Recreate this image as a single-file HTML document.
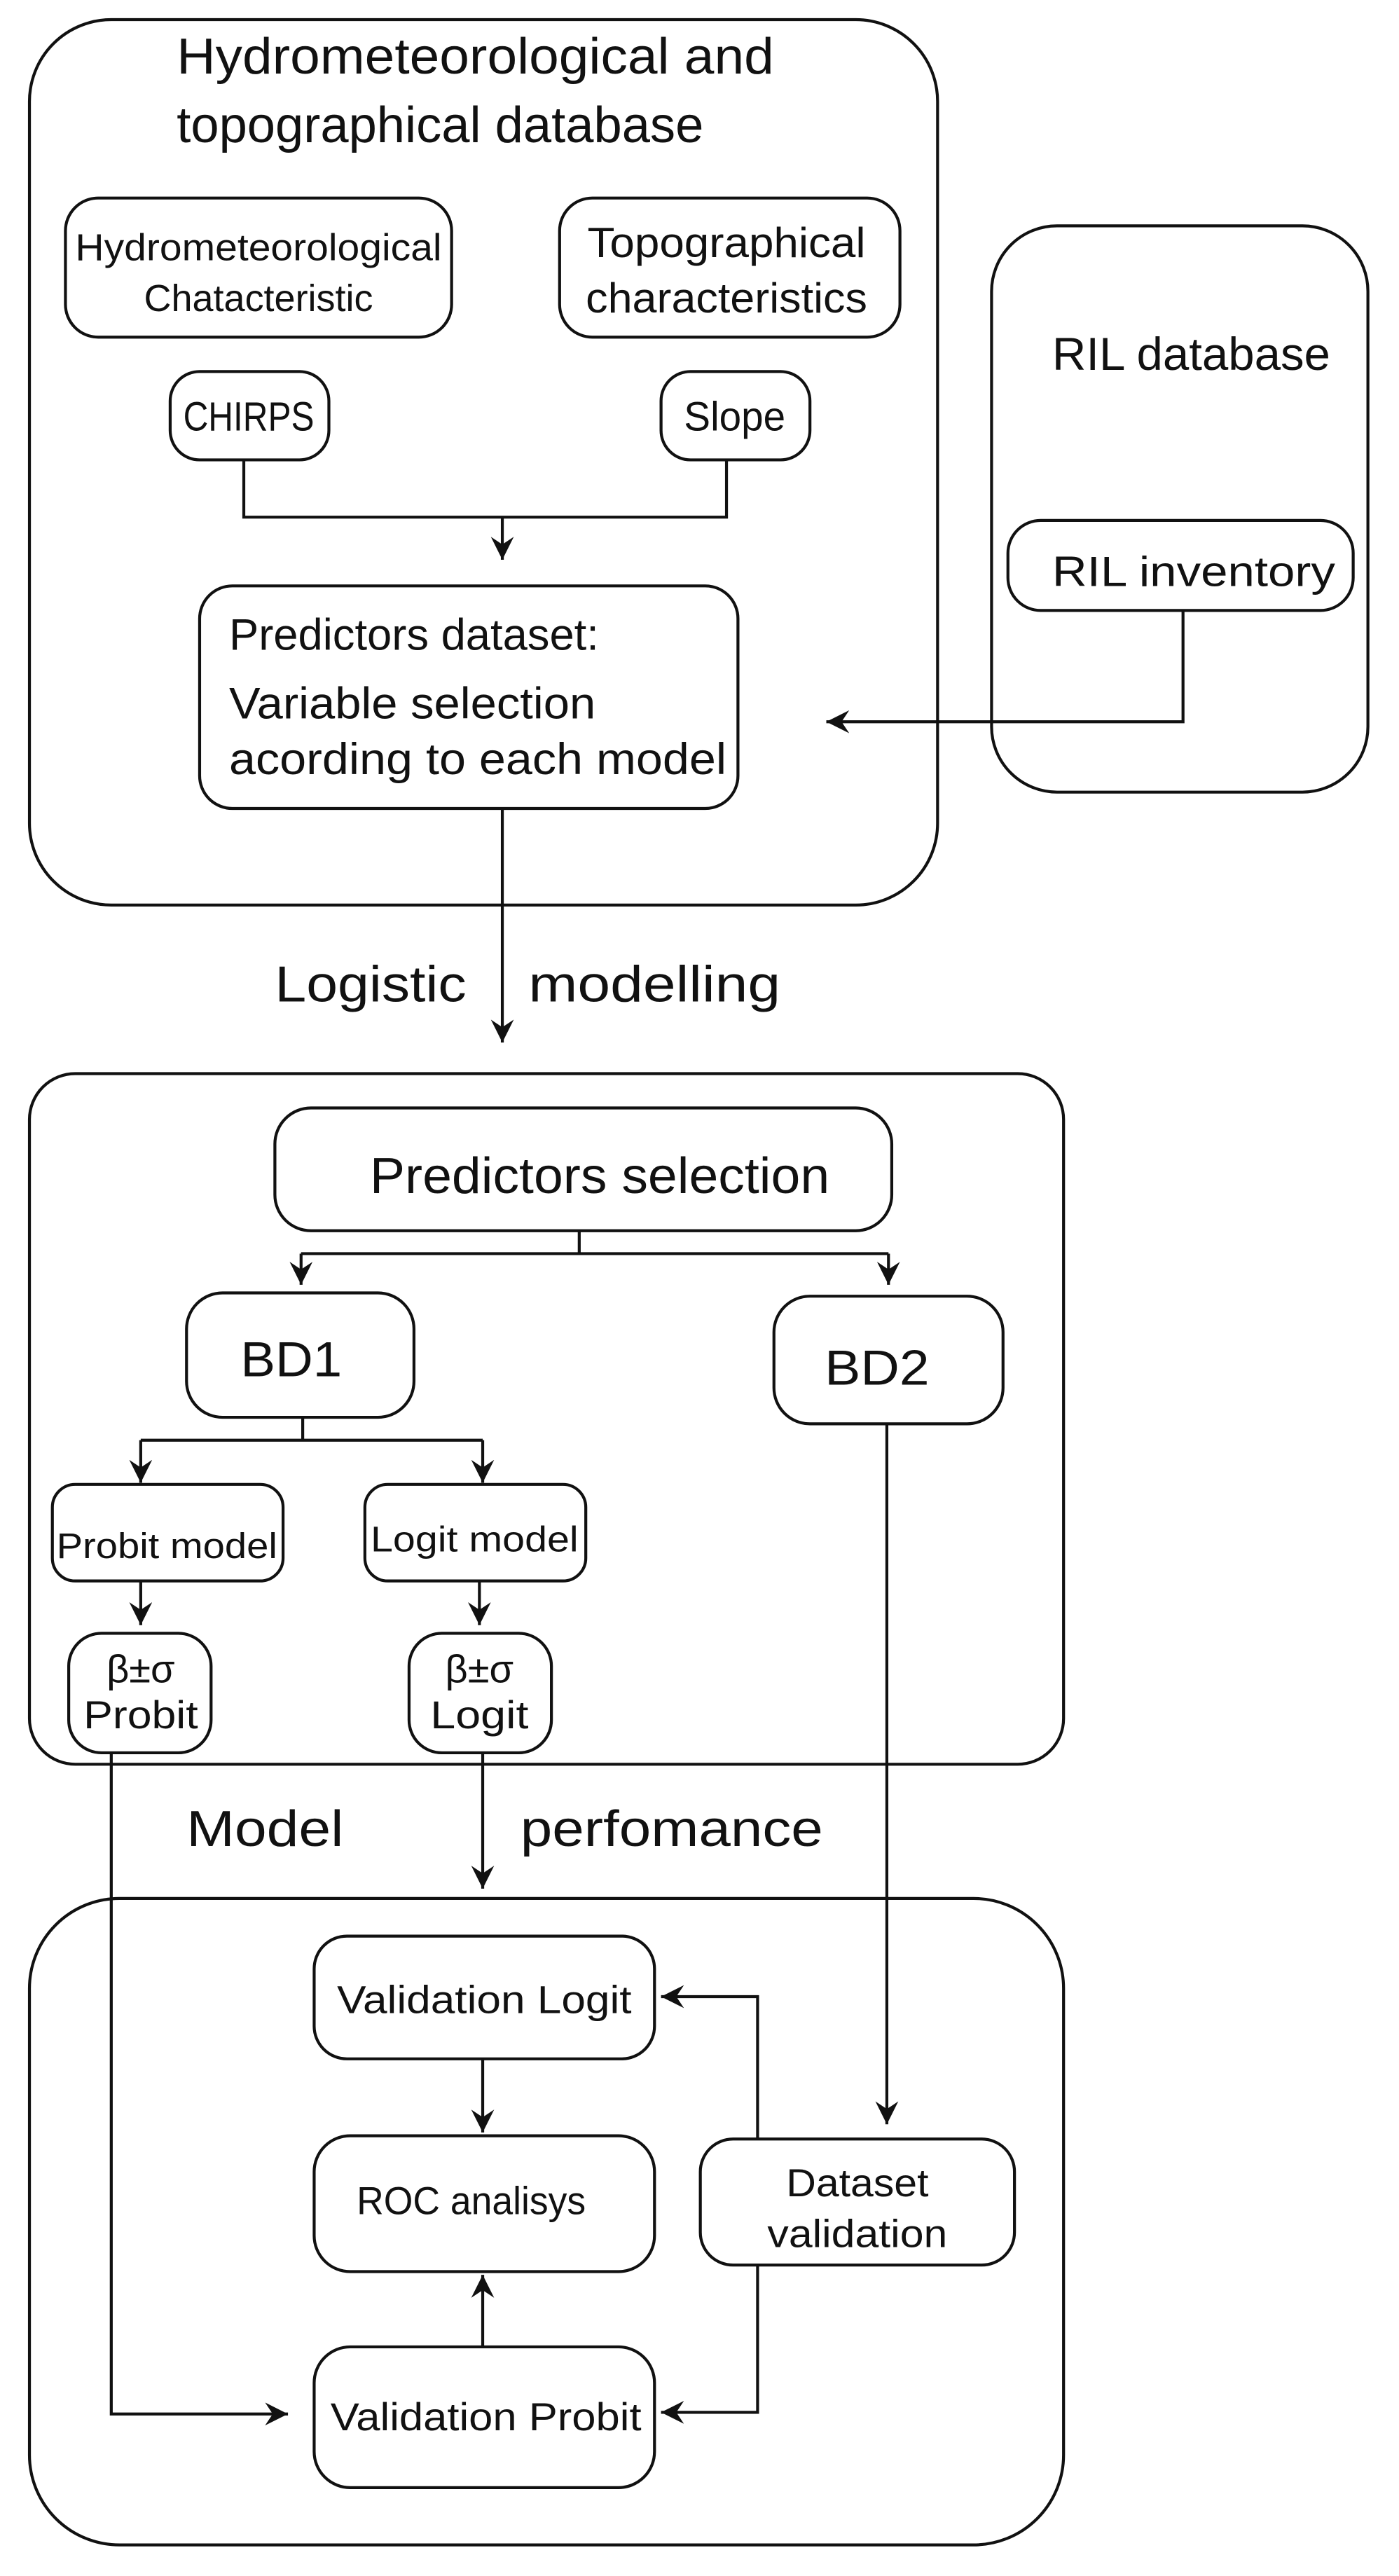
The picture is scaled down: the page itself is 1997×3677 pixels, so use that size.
<!DOCTYPE html>
<html><head><meta charset="utf-8"><style>
html,body{margin:0;padding:0;background:#fff;}
svg{display:block;}
text{font-family:"Liberation Sans Narrow","Liberation Sans",sans-serif;fill:#111;}
</style></head><body>
<svg width="1997" height="3677" viewBox="0 0 855 1574" preserveAspectRatio="none" xmlns="http://www.w3.org/2000/svg">
<defs>
<marker id="a" viewBox="0 0 12 12" refX="12" refY="6" markerWidth="14" markerHeight="14" orient="auto" markerUnits="userSpaceOnUse">
<path d="M0,0 L12,6 L0,12 L4,6 z" fill="#111"/></marker>
</defs>
<g fill="none" stroke="#111" stroke-width="1.8">
<rect x="18" y="12" width="555" height="541" rx="50"/>
<rect x="40" y="121" width="236" height="85" rx="20"/>
<rect x="342" y="121" width="208" height="85" rx="20"/>
<rect x="104" y="227" width="97" height="54" rx="18"/>
<rect x="404" y="227" width="91" height="54" rx="18"/>
<rect x="122" y="358" width="329" height="136" rx="20"/>
<rect x="606" y="138" width="230" height="346" rx="40"/>
<rect x="616" y="318" width="211" height="55" rx="20"/>
<polyline points="149,281 149,316 444,316 444,281"/>
<line x1="307" y1="316" x2="307" y2="342" marker-end="url(#a)"/>
<polyline points="723,373 723,441 505,441" marker-end="url(#a)"/>
<line x1="307" y1="494" x2="307" y2="637" marker-end="url(#a)"/>

<rect x="18" y="656" width="632" height="422" rx="28"/>
<rect x="168" y="677" width="377" height="75" rx="22"/>
<line x1="354" y1="752" x2="354" y2="766"/>
<line x1="184" y1="766" x2="543" y2="766"/>
<line x1="184" y1="766" x2="184" y2="785" marker-end="url(#a)"/>
<line x1="543" y1="766" x2="543" y2="785" marker-end="url(#a)"/>
<rect x="114" y="790" width="139" height="76" rx="22"/>
<rect x="473" y="792" width="140" height="78" rx="22"/>
<line x1="185" y1="866" x2="185" y2="880"/>
<line x1="86" y1="880" x2="295" y2="880"/>
<line x1="86" y1="880" x2="86" y2="906" marker-end="url(#a)"/>
<line x1="295" y1="880" x2="295" y2="906" marker-end="url(#a)"/>
<rect x="32" y="907" width="141" height="59" rx="14"/>
<rect x="223" y="907" width="135" height="59" rx="14"/>
<line x1="86" y1="966" x2="86" y2="993" marker-end="url(#a)"/>
<line x1="293" y1="966" x2="293" y2="993" marker-end="url(#a)"/>
<rect x="42" y="998" width="87" height="73" rx="20"/>
<rect x="250" y="998" width="87" height="73" rx="20"/>
<polyline points="68,1071 68,1475 176,1475" marker-end="url(#a)"/>
<line x1="295" y1="1071" x2="295" y2="1154" marker-end="url(#a)"/>
<line x1="542" y1="870" x2="542" y2="1298" marker-end="url(#a)"/>

<rect x="18" y="1160" width="632" height="395" rx="55"/>
<rect x="192" y="1183" width="208" height="75" rx="20"/>
<rect x="192" y="1305" width="208" height="83" rx="22"/>
<rect x="192" y="1434" width="208" height="86" rx="22"/>
<rect x="428" y="1307" width="192" height="77" rx="20"/>
<line x1="295" y1="1258" x2="295" y2="1303" marker-end="url(#a)"/>
<line x1="295" y1="1434" x2="295" y2="1390" marker-end="url(#a)"/>
<polyline points="463,1307 463,1220 404,1220" marker-end="url(#a)"/>
<polyline points="463,1384 463,1474 404,1474" marker-end="url(#a)"/>
</g>

<text x="108" y="45" font-size="31" textLength="365" lengthAdjust="spacingAndGlyphs">Hydrometeorological   and</text>
<text x="108" y="87" font-size="31" textLength="322" lengthAdjust="spacingAndGlyphs">topographical database</text>
<text x="158" y="159" font-size="23" text-anchor="middle" textLength="224" lengthAdjust="spacingAndGlyphs">Hydrometeorological</text>
<text x="158" y="190" font-size="23" text-anchor="middle" textLength="140" lengthAdjust="spacingAndGlyphs">Chatacteristic</text>
<text x="444" y="157" font-size="26" text-anchor="middle" textLength="170" lengthAdjust="spacingAndGlyphs">Topographical</text>
<text x="444" y="191" font-size="26" text-anchor="middle" textLength="172" lengthAdjust="spacingAndGlyphs">characteristics</text>
<text x="152" y="263" font-size="25" text-anchor="middle" textLength="80" lengthAdjust="spacingAndGlyphs">CHIRPS</text>
<text x="449" y="263" font-size="25" text-anchor="middle" textLength="62" lengthAdjust="spacingAndGlyphs">Slope</text>
<text x="140" y="397" font-size="27" textLength="226" lengthAdjust="spacingAndGlyphs">Predictors dataset:</text>
<text x="140" y="439" font-size="27" textLength="224" lengthAdjust="spacingAndGlyphs">Variable selection</text>
<text x="140" y="473" font-size="27" textLength="304" lengthAdjust="spacingAndGlyphs">acording to each model</text>
<text x="643" y="226" font-size="28" textLength="170" lengthAdjust="spacingAndGlyphs">RIL database</text>
<text x="643" y="358" font-size="26" textLength="173" lengthAdjust="spacingAndGlyphs">RIL inventory</text>
<text x="168" y="612" font-size="31" textLength="117" lengthAdjust="spacingAndGlyphs">Logistic</text>
<text x="323" y="612" font-size="31" textLength="154" lengthAdjust="spacingAndGlyphs">modelling</text>

<text x="226" y="729" font-size="31" textLength="281" lengthAdjust="spacingAndGlyphs">Predictors selection</text>
<text x="178" y="841" font-size="30" text-anchor="middle" textLength="62" lengthAdjust="spacingAndGlyphs">BD1</text>
<text x="536" y="846" font-size="30" text-anchor="middle" textLength="64" lengthAdjust="spacingAndGlyphs">BD2</text>
<text x="102" y="952" font-size="22" text-anchor="middle" textLength="135" lengthAdjust="spacingAndGlyphs">Probit model</text>
<text x="290" y="948" font-size="22" text-anchor="middle" textLength="127" lengthAdjust="spacingAndGlyphs">Logit model</text>
<text x="86" y="1028" font-size="24" text-anchor="middle">β±σ</text>
<text x="86" y="1056" font-size="24" text-anchor="middle" textLength="70" lengthAdjust="spacingAndGlyphs">Probit</text>
<text x="293" y="1028" font-size="24" text-anchor="middle">β±σ</text>
<text x="293" y="1056" font-size="24" text-anchor="middle" textLength="60" lengthAdjust="spacingAndGlyphs">Logit</text>
<text x="114" y="1128" font-size="31" textLength="96" lengthAdjust="spacingAndGlyphs">Model</text>
<text x="318" y="1128" font-size="31" textLength="185" lengthAdjust="spacingAndGlyphs">perfomance</text>

<text x="296" y="1230" font-size="24" text-anchor="middle" textLength="180" lengthAdjust="spacingAndGlyphs">Validation Logit</text>
<text x="288" y="1353" font-size="24" text-anchor="middle" textLength="140" lengthAdjust="spacingAndGlyphs">ROC analisys</text>
<text x="297" y="1485" font-size="24" text-anchor="middle" textLength="190" lengthAdjust="spacingAndGlyphs">Validation Probit</text>
<text x="524" y="1342" font-size="24" text-anchor="middle" textLength="87" lengthAdjust="spacingAndGlyphs">Dataset</text>
<text x="524" y="1373" font-size="24" text-anchor="middle" textLength="110" lengthAdjust="spacingAndGlyphs">validation</text>
</svg>
</body></html>
